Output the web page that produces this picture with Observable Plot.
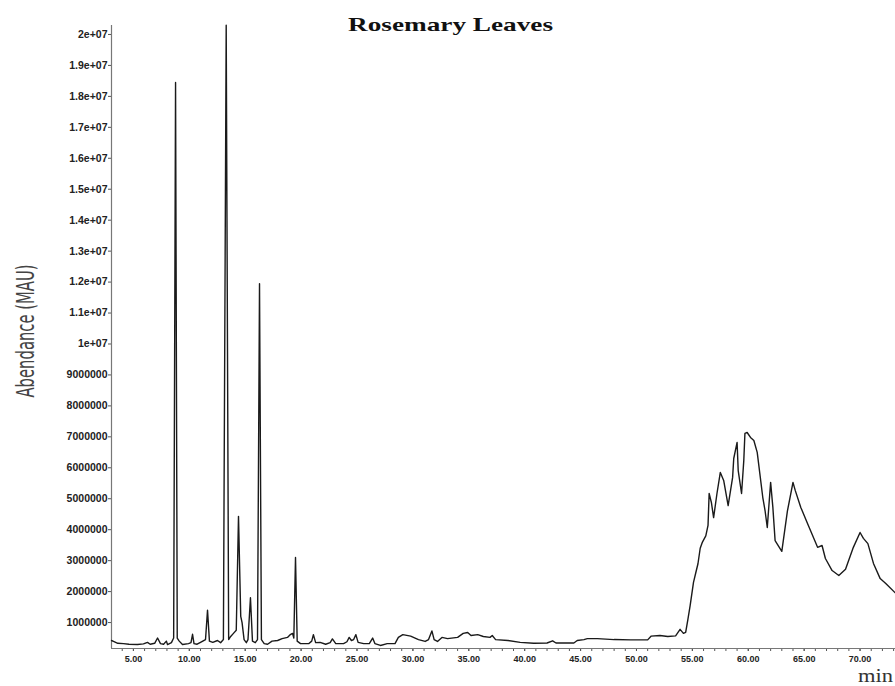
<!DOCTYPE html>
<html>
<head>
<meta charset="utf-8">
<script src="https://cdn.jsdelivr.net/npm/d3@7"></script>
<script src="https://cdn.jsdelivr.net/npm/@observablehq/plot@0.6"></script>
<style>
  body { margin: 0; background: #fff; }
  #chart { width: 895px; height: 686px; }
</style>
</head>
<body>
<div id="chart"></div>
<script>
// Retention time (min) of each sampled point of the chromatogram trace
const minutes = [
  3.04, 3.22, 3.6, 4.11, 4.6, 5.37, 5.9, 6.26, 6.5, 6.9,
  7.16, 7.42, 7.7, 7.95, 8.05, 8.4, 8.6, 8.77, 8.92, 9.1,
  9.39, 9.93, 10.15, 10.29, 10.42, 10.7, 11.0, 11.45, 11.63, 11.8,
  12.1, 12.52, 12.8, 13.05, 13.3, 13.52, 13.7, 13.95, 14.2, 14.4,
  14.6, 14.72, 14.9, 15.1, 15.25, 15.47, 15.65, 15.9, 16.1, 16.28,
  16.45, 16.7, 17.0, 17.4, 17.9, 18.3, 18.78, 19.0, 19.23, 19.35,
  19.5, 19.65, 19.95, 20.7, 20.95, 21.1, 21.3, 21.7, 22.2, 22.6,
  22.8, 23.1, 23.8, 24.1, 24.3, 24.5, 24.7, 24.9, 25.1, 25.6,
  26.1, 26.4, 26.6, 27.1, 27.7, 28.4, 28.7, 29.1, 29.8, 30.5,
  31.1, 31.4, 31.7, 31.9, 32.2, 32.6, 33.1, 34.0, 34.5, 34.9,
  35.2, 35.8, 36.3, 36.9, 37.1, 37.4, 38.5, 39.6, 40.8, 42.0,
  42.5, 42.8, 44.4, 44.7, 45.3, 45.6, 46.5, 48.0, 49.5, 51.0,
  51.3, 52.1, 52.8, 53.5, 53.9, 54.2, 54.4, 54.6, 54.8, 55.1,
  55.3, 55.5, 55.7, 55.9, 56.2, 56.4, 56.5, 56.7, 56.9, 57.2,
  57.5, 57.8, 58.2, 58.6, 58.7, 59.0, 59.1, 59.4, 59.6, 59.7,
  59.9, 60.2, 60.5, 60.8, 61.3, 61.5, 61.7, 62.0, 62.2, 62.4,
  63.0, 63.5, 64.0, 64.2, 64.7, 65.3, 66.2, 66.6, 66.9, 67.5,
  68.1, 68.7, 69.4, 70.0, 70.3, 70.7, 71.2, 71.8, 72.3, 73.2
];

// Detector abundance (MAU) at each retention time
const abundance = [
  420000, 390000, 330000, 320000, 300000, 290000, 310000, 360000, 300000, 330000,
  500000, 320000, 300000, 400000, 290000, 350000, 500000, 18450000, 500000, 400000,
  290000, 320000, 350000, 620000, 320000, 300000, 360000, 450000, 1400000, 400000,
  360000, 420000, 350000, 450000, 20300000, 450000, 550000, 650000, 750000, 4430000,
  1200000, 1000000, 450000, 350000, 450000, 1800000, 400000, 350000, 450000, 11950000,
  450000, 320000, 300000, 400000, 420000, 480000, 520000, 600000, 650000, 500000,
  3100000, 400000, 320000, 320000, 400000, 610000, 350000, 360000, 300000, 350000,
  470000, 320000, 320000, 380000, 520000, 420000, 450000, 610000, 360000, 320000,
  320000, 500000, 320000, 260000, 320000, 320000, 520000, 610000, 560000, 450000,
  390000, 450000, 730000, 450000, 390000, 520000, 480000, 520000, 650000, 680000,
  580000, 610000, 550000, 520000, 580000, 450000, 420000, 360000, 330000, 340000,
  410000, 340000, 340000, 420000, 450000, 480000, 480000, 450000, 440000, 440000,
  560000, 580000, 550000, 570000, 780000, 650000, 680000, 1100000, 1550000, 2300000,
  2600000, 2900000, 3400000, 3600000, 3800000, 4140000, 5170000, 4880000, 4390000, 5170000,
  5850000, 5590000, 4780000, 5690000, 6300000, 6820000, 5910000, 5170000, 6240000, 7110000,
  7140000, 6980000, 6880000, 6500000, 5040000, 4620000, 4070000, 5530000, 4720000, 3650000,
  3300000, 4600000, 5530000, 5270000, 4720000, 4200000, 3430000, 3490000, 3070000, 2680000,
  2520000, 2720000, 3430000, 3910000, 3720000, 3550000, 2910000, 2420000, 2260000, 1940000
];

// Axis ticks
const yTickValues = [
  1000000, 2000000, 3000000, 4000000, 5000000, 6000000, 7000000, 8000000, 9000000, 10000000,
  11000000, 12000000, 13000000, 14000000, 15000000, 16000000, 17000000, 18000000, 19000000, 20000000
];
const yTickLabels = [
  "1000000", "2000000", "3000000", "4000000", "5000000", "6000000", "7000000", "8000000", "9000000", "1e+07",
  "1.1e+07", "1.2e+07", "1.3e+07", "1.4e+07", "1.5e+07", "1.6e+07", "1.7e+07", "1.8e+07", "1.9e+07", "2e+07"
];
const xTickValues = [5, 10, 15, 20, 25, 30, 35, 40, 45, 50, 55, 60, 65, 70];
const xTickLabels = ["5.00", "10.00", "15.00", "20.00", "25.00", "30.00", "35.00", "40.00", "45.00", "50.00", "55.00", "60.00", "65.00", "70.00"];

const chartTitle = "Rosemary Leaves";
const yTitle = "Abendance (MAU)";
const xTitle = "min";

const xDomain = [3.04, 73.17];
const yDomain = [161600, 20290000];

const trace = minutes.map((t, i) => ({t, a: abundance[i]}));
const minorTicks = d3.range(4, 74);

const tickFont = "'Liberation Sans', Arial, sans-serif";

const plot = Plot.plot({
  width: 895,
  height: 686,
  marginLeft: 111,
  marginRight: 0,
  marginTop: 25,
  marginBottom: 38,
  style: {background: "#fff", overflow: "visible"},
  x: {domain: xDomain},
  y: {domain: yDomain},
  marks: [
    // minor minute ticks along the time axis
    Plot.axisX({
      ticks: minorTicks, tickSize: 3, tickFormat: () => "", stroke: "#555", label: null
    }),
    Plot.axisX({
      ticks: xTickValues,
      tickFormat: d => xTickLabels[xTickValues.indexOf(d)],
      tickSize: 3, tickPadding: 4, stroke: "#555",
      fontSize: 9, fontWeight: "bold", fontFamily: tickFont, fill: "#222",
      label: null
    }),
    Plot.axisY({
      ticks: yTickValues,
      tickFormat: d => yTickLabels[yTickValues.indexOf(d)],
      tickSize: 3, tickPadding: 1, stroke: "#555",
      fontSize: 10.5, fontWeight: "bold", fontFamily: tickFont, fill: "#222",
      label: null
    }),
    Plot.ruleX([xDomain[0]], {stroke: "#777", strokeWidth: 1.2}),
    Plot.ruleY([yDomain[0]], {stroke: "#777", strokeWidth: 1.2}),
    Plot.line(trace, {x: "t", y: "a", stroke: "#1a1a1a", strokeWidth: 1.4, curve: "linear"})
  ]
});

const svg = d3.select(plot);

svg.append("text")
  .attr("x", 348).attr("y", 31)
  .attr("text-anchor", "start")
  .attr("font-family", "'Liberation Serif', 'Times New Roman', serif")
  .attr("font-weight", "bold")
  .attr("font-size", 19)
  .attr("textLength", 205)
  .attr("lengthAdjust", "spacingAndGlyphs")
  .attr("fill", "#111")
  .text(chartTitle);

svg.append("text")
  .attr("transform", "translate(34,331) rotate(-90)")
  .attr("text-anchor", "middle")
  .attr("font-family", "'Liberation Sans Narrow', 'DejaVu Sans Condensed', sans-serif")
  .attr("font-size", 25)
  .attr("textLength", 133)
  .attr("lengthAdjust", "spacingAndGlyphs")
  .attr("fill", "#444")
  .text(yTitle);

svg.append("text")
  .attr("x", 858).attr("y", 682)
  .attr("text-anchor", "start")
  .attr("font-family", "'Liberation Serif', 'Times New Roman', serif")
  .attr("font-size", 19)
  .attr("textLength", 35)
  .attr("lengthAdjust", "spacingAndGlyphs")
  .attr("fill", "#333")
  .text(xTitle);

document.getElementById("chart").append(plot);
</script>
</body>
</html>
